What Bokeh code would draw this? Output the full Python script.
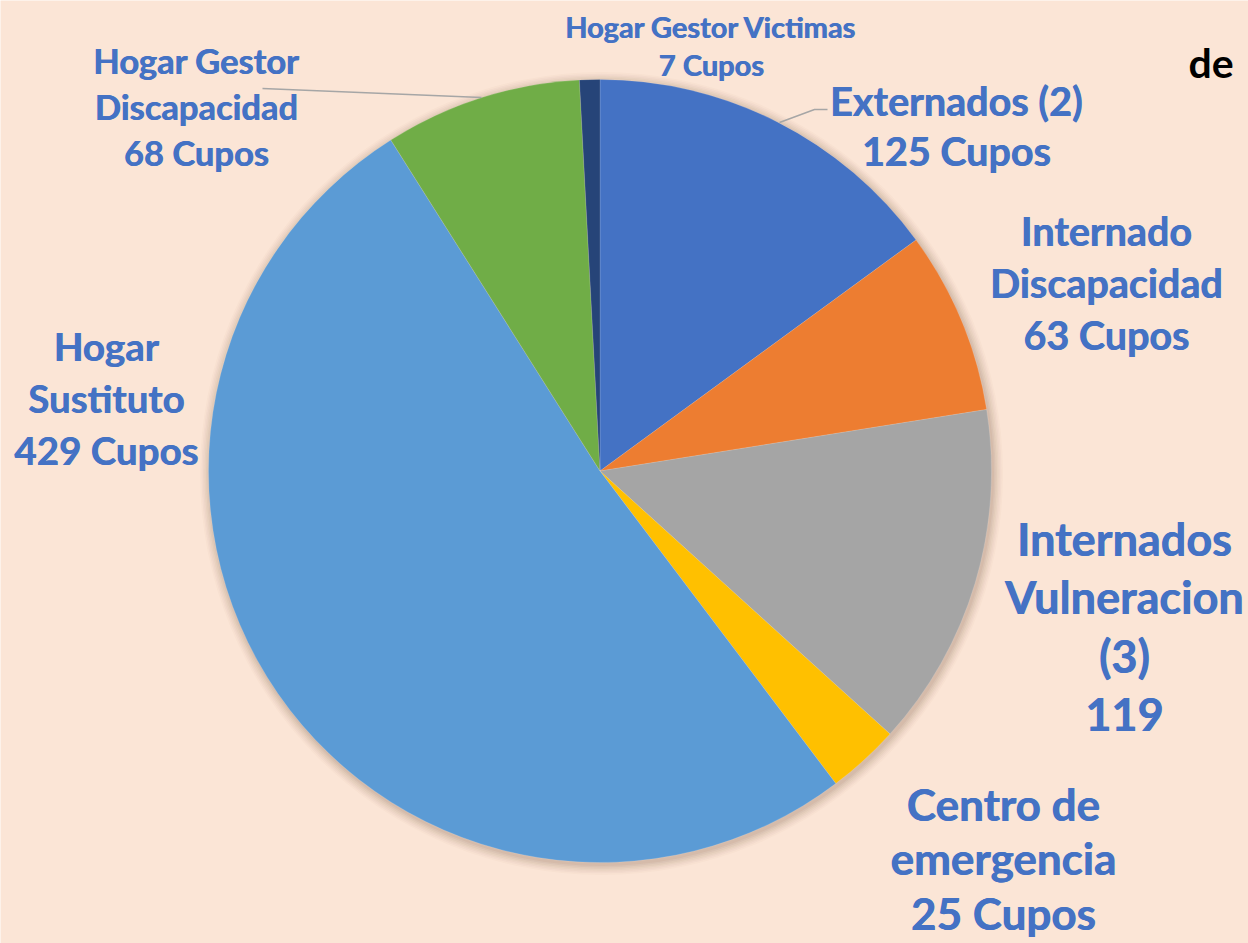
import math
from bokeh.plotting import figure
from bokeh.models import ColumnDataSource, Range1d
from bokeh.core.properties import value
from bokeh.embed import file_html
from bokeh.resources import INLINE

# ---- data ----
categories = ["Externados (2)", "Internado Discapacidad", "Internados Vulneracion (3)",
              "Centro de emergencia", "Hogar Sustituto", "Hogar Gestor Discapacidad",
              "Hogar Gestor Victimas"]
cupos = [125, 63, 119, 25, 429, 68, 7]
colors = ["#4472C4", "#ED7D31", "#A5A5A5", "#FFC000", "#5B9BD5", "#70AD47", "#264478"]
label_lines = [
    ["Externados (2)", "125 Cupos"],
    ["Internado", "Discapacidad", "63 Cupos"],
    ["Internados", "Vulneracion", "(3)", "119"],
    ["Centro de", "emergencia", "25 Cupos"],
    ["Hogar", "Sustituto", "429 Cupos"],
    ["Hogar Gestor", "Discapacidad", "68 Cupos"],
    ["Hogar Gestor Victimas", "7 Cupos"],
]

# ---- layout (pixel coordinates, y downward) ----
W, H = 1248, 943
BG = "#FBE5D6"
LABEL_COLOR = "#4472C4"
CX, CY, R = 599.5, 470.5, 391.5
# (center x, first line y, line spacing, font size px)
label_layout = [
    (956, 100, 50, 39.5),
    (1106, 230, 52, 39.5),
    (1124, 538, 58.5, 45),
    (1003, 803, 54.5, 44),
    (106, 345, 52, 38.5),
    (196, 60, 46, 34.5),
    (711, 26, 38, 29),
]

def Y(ypx):
    return H - ypx

p = figure(width=W, height=H, x_range=Range1d(0, W), y_range=Range1d(0, H),
           output_backend="svg", toolbar_location=None, min_border=0)
p.axis.visible = False
p.grid.visible = False
p.outline_line_color = None
p.background_fill_color = BG
p.border_fill_color = BG

# soft shadow
for i, a in enumerate([0.05, 0.05, 0.045, 0.04, 0.035, 0.03, 0.025]):
    p.circle(x=[CX + 1.5], y=[Y(CY + 2.5)], radius=R + 1 + i * 1.5, fill_color="#6b4a30",
             fill_alpha=a, line_color=None)

total = sum(cupos)
starts, ends = [], []
cum = 0
for v in cupos:
    starts.append(math.pi / 2 - 2 * math.pi * cum / total)
    cum += v
    ends.append(math.pi / 2 - 2 * math.pi * cum / total)

src = ColumnDataSource(dict(cat=categories, v=cupos, color=colors, start=starts, end=ends))
p.wedge(x=CX, y=Y(CY), radius=R, start_angle="start", end_angle="end", direction="clock",
        fill_color="color", line_color="white", line_width=0.4, line_alpha=0.35, source=src)

# leader lines
p.line(x=[262, 481], y=[Y(88), Y(97)], line_color="#A6A6A6", line_width=1.5)
p.line(x=[779, 814, 827], y=[Y(122), Y(109), Y(109)], line_color="#A6A6A6", line_width=1.5)

# labels (drawn twice with a sub-pixel offset for a heavier weight)
for lines, (lx, ly, sp, fs) in zip(label_lines, label_layout):
    ys = [Y(ly + k * sp) for k in range(len(lines))]
    for dx in (-0.35, 0.35):
        p.text(x=[lx + dx] * len(lines), y=ys, text=lines, text_align="center",
               text_baseline="middle", text_font=value("Lato"), text_font_style="bold",
               text_font_size=f"{fs}px", text_color=LABEL_COLOR)

# cut-off title fragment
p.text(x=[1188], y=[Y(62)], text=["de"], text_align="left", text_baseline="middle",
       text_font=value("Lato"), text_font_style="bold", text_font_size="41px",
       text_color="#000000")

open("out.html", "w").write(file_html(p, INLINE))
